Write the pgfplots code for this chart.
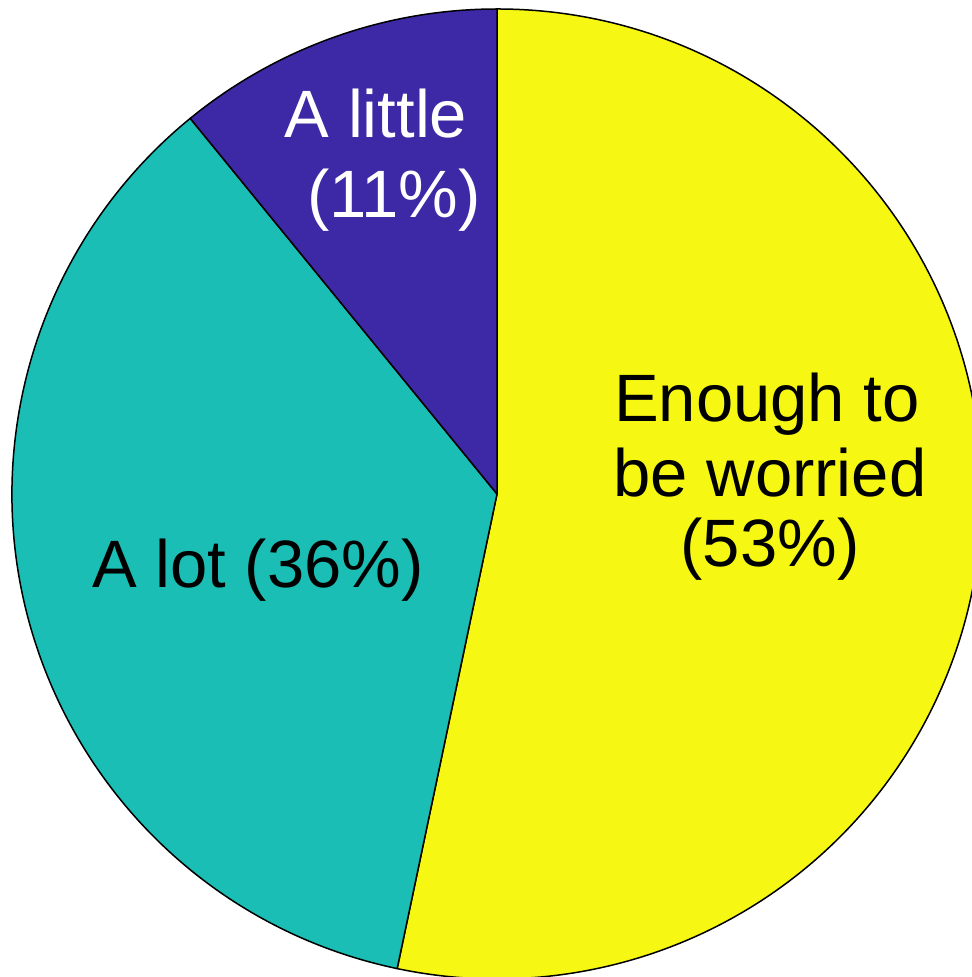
\documentclass[border=0pt]{standalone}
\usepackage{pgfplots}
\pgfplotsset{compat=1.18}
\usepackage{pgfplotstable}
\usepackage{fontspec}
\setmainfont{Liberation Sans}
\definecolor{pieyellow}{HTML}{F7F714}
\definecolor{pieteal}{HTML}{1ABEB4}
\definecolor{piepurple}{HTML}{3D28A5}
\pgfplotstableread{
label pct
Enough 53.3
Alot 35.8
Alittle 10.9
}\piedata
\begin{document}%
\begin{tikzpicture}
\pgfplotstablegetelem{0}{pct}\of\piedata\edef\pA{\pgfplotsretval}
\pgfplotstablegetelem{1}{pct}\of\piedata\edef\pB{\pgfplotsretval}
\pgfplotstablegetelem{2}{pct}\of\piedata\edef\pC{\pgfplotsretval}
\pgfmathsetmacro\angA{90}
\pgfmathsetmacro\angB{90-3.6*\pA}
\pgfmathsetmacro\angC{\angB-3.6*\pB}
\pgfmathsetmacro\angD{\angC-3.6*\pC}
\path (0,0) rectangle (972bp,977bp);
\begin{pgfinterruptboundingbox}
\clip (0,0) rectangle (972bp,977bp);
\begin{axis}[at={(0,0)}, anchor=south west, width=972bp, height=977bp,
  scale only axis, xmin=0, xmax=972, ymin=0, ymax=977, hide axis, clip=false,
  xtick=\empty, ytick=\empty]
\filldraw[fill=pieyellow, draw=black, line width=1.5bp, line join=round]
  (axis cs:497,483) -- ++(\angA:485bp) arc[start angle=\angA, end angle=\angB, radius=485bp] -- cycle;
\filldraw[fill=pieteal, draw=black, line width=1.5bp, line join=round]
  (axis cs:497,483) -- ++(\angB:485bp) arc[start angle=\angB, end angle=\angC, radius=485bp] -- cycle;
\filldraw[fill=piepurple, draw=black, line width=1.5bp, line join=round]
  (axis cs:497,483) -- ++(\angC:485bp) arc[start angle=\angC, end angle=\angD, radius=485bp] -- cycle;
\tikzset{lbl/.style={anchor=base, inner sep=0pt, font=\fontsize{67bp}{77bp}\selectfont}}
\node[lbl, text=white] at (axis cs:376,839) {A little};
\node[lbl, text=white] at (axis cs:394,759) {(11\%)};
\node[lbl] at (axis cs:767,555) {Enough to};
\node[lbl] at (axis cs:770,480) {be worried};
\node[lbl] at (axis cs:770,410) {(53\%)};
\node[lbl] at (axis cs:258,389) {A lot (36\%)};
\end{axis}
\end{pgfinterruptboundingbox}
\end{tikzpicture}%
\end{document}
